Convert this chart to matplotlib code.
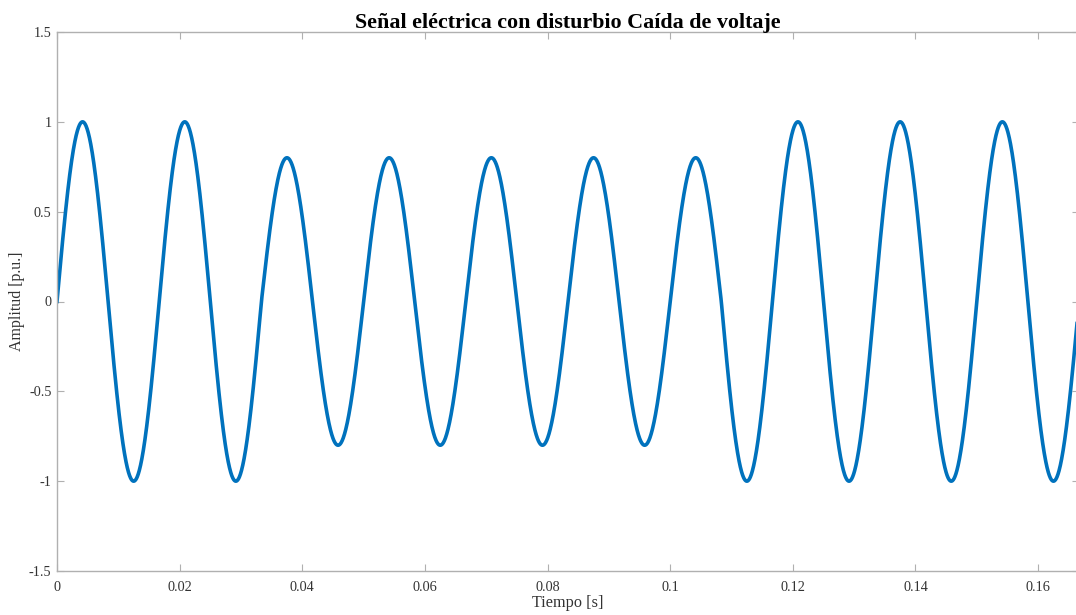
import numpy as np
import matplotlib.pyplot as plt

plt.rcParams['font.family'] = ['Liberation Serif', 'DejaVu Serif']

f = 60  # Hz
# amplitude of each half cycle (read from the peaks/troughs)
half_amp = [1, 1, 1, 1, 0.8, 0.8, 0.8, 0.8, 0.8, 0.8, 0.8, 0.8, 0.8,
            1, 1, 1, 1, 1, 1, 1]
xticks = [0, 0.02, 0.04, 0.06, 0.08, 0.1, 0.12, 0.14, 0.16]
xticklabels = ['0', '0.02', '0.04', '0.06', '0.08', '0.1', '0.12', '0.14', '0.16']
yticks = [-1.5, -1, -0.5, 0, 0.5, 1, 1.5]
yticklabels = ['-1.5', '-1', '-0.5', '0', '0.5', '1', '1.5']

half = 1 / (2 * f)
t = np.linspace(0, len(half_amp) * half, 4000)
idx = np.minimum((t / half).astype(int), len(half_amp) - 1)
amp = np.array(half_amp)[idx]
v = amp * np.sin(2 * np.pi * f * t)

fig = plt.figure(figsize=(10.76, 6.15), dpi=100)
ax = fig.add_axes([57 / 1076, 1 - 571 / 615, (1079 - 57) / 1076, (571 - 32) / 615])
ax.plot(t, v, color='#0072BD', linewidth=2.6)
ax.set_xlim(0, len(half_amp) * half)
ax.set_ylim(-1.5, 1.5)
ax.set_xticks(xticks)
ax.set_xticklabels(xticklabels)
ax.set_yticks(yticks)
ax.set_yticklabels(yticklabels)
ax.tick_params(direction='in', top=True, right=True, length=5, width=0.8,
               colors='#b0b0b0', labelcolor='#333333', labelsize=10.3)
ax.tick_params(axis='x', pad=7)
ax.tick_params(axis='y', pad=4)
for s in ax.spines.values():
    s.set_color('#b0b0b0')
    s.set_linewidth(1.0)
ax.set_xlabel('Tiempo [s]', fontsize=11.7, color='#333333', labelpad=1)
ax.set_ylabel('Amplitud [p.u.]', fontsize=11.5, color='#333333')
ax.yaxis.set_label_coords(-0.031, 0.5)
ax.set_title('Señal eléctrica con disturbio Caída de voltaje', fontsize=15.8,
             fontweight='bold', pad=3)

fig.savefig('out.png', dpi=100)
